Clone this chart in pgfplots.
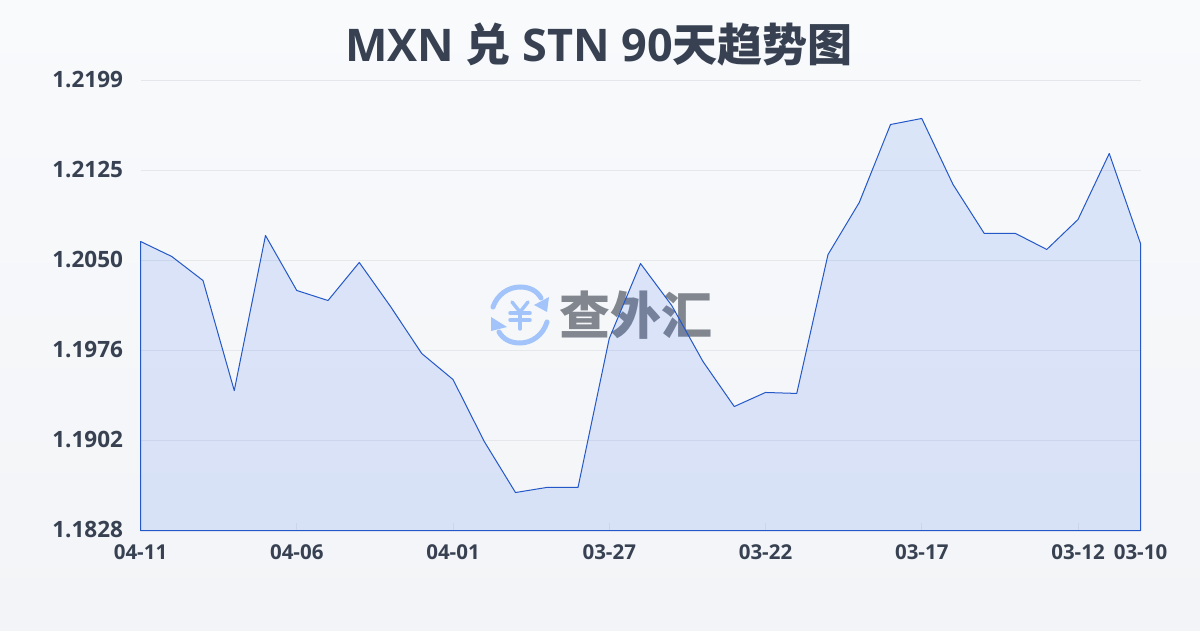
\documentclass[border=0pt]{standalone}
\usepackage{pgfplots}
\pgfplotsset{compat=1.18}
\usepackage{pgfplotstable}
\usepackage{fontspec}
\setmainfont{Open Sans}
\newfontfamily\cjk{Noto Sans CJK SC}
\definecolor{ink}{HTML}{374151}
\definecolor{gridc}{HTML}{E5E7EB}
\definecolor{serie}{HTML}{2458C8}
\definecolor{fillc}{HTML}{2563EB}
\definecolor{logo}{HTML}{A3C4FB}
\definecolor{wm}{HTML}{81868F}
\definecolor{bgtop}{HTML}{F8FAFC}
\definecolor{bgbot}{HTML}{F2F4F7}
\pgfplotstableread{
idx val
0 1.20663
1 1.20539
2 1.20341
3 1.19434
4 1.20712
5 1.20259
6 1.20176
7 1.20490
8 1.20127
9 1.19739
10 1.19525
11 1.19014
12 1.18593
13 1.18635
14 1.18635
15 1.19863
16 1.20481
17 1.20135
18 1.19673
19 1.19302
20 1.19418
21 1.19410
22 1.20555
23 1.20984
24 1.21627
25 1.21677
26 1.21133
27 1.20729
28 1.20729
29 1.20597
30 1.20844
31 1.21388
32 1.20646
}\rates
\begin{document}
\begin{tikzpicture}[x=1pt,y=1pt]
\path[use as bounding box] (0,0) rectangle (1200,630);
\shade[top color=bgtop,bottom color=bgbot] (0,0) rectangle (1200,630);
% watermark
\begin{scope}[line width=5pt,draw=logo,line cap=round]
\draw (493,323) .. controls (497,335) and (508,343) .. (520,343) .. controls (530,343) and (537,339) .. (541,332);
\fill[logo] (549,333) -- (547,318) -- (534,325) -- cycle;
\draw (547,308) .. controls (543,295) and (532,287) .. (520,287) .. controls (510,287) and (503,291) .. (499,298);
\fill[logo] (491,313) -- (491,299) -- (507,303) -- cycle;
\draw[line width=3.5pt] (512,328) -- (520,318) -- (528,328);
\draw[line width=3.5pt] (510,317) -- (530,317);
\draw[line width=3.5pt] (510,310) -- (530,310);
\draw[line width=3.5pt] (520,318) -- (520,301);
\end{scope}
\node[text=wm,font={\cjk\bfseries\fontsize{51}{51}\selectfont},inner sep=0pt,anchor=center] at (636,315) {查外汇};
\begin{axis}[
  at={(140.5pt,99.5pt)},anchor=south west,
  scale only axis,width=1000pt,height=450pt,
  xmin=0,xmax=32,ymin=1.1828,ymax=1.2199,
  axis line style={draw=none},
  clip=false,
  xtick={0,5,10,15,20,25,30,32},
  xticklabels={04-11,04-06,04-01,03-27,03-22,03-17,03-12,03-10},
  ytick={1.1828,1.19022,1.19764,1.20506,1.21248,1.2199},
  yticklabels={1.1828,1.1902,1.1976,1.2050,1.2125,1.2199},
  ymajorgrids,
  grid style={gridc,line width=1pt},
  major tick length=8pt,
  xtick style={gridc,line width=1pt},
  ytick style={draw=none},
  xtick pos=bottom,ytick pos=left,
  tick label style={text=ink},
  yticklabel style={font=\fontsize{22.5}{22.5}\selectfont\bfseries,anchor=east,xshift=-14pt,yshift=1pt},
  xticklabel style={font=\fontsize{20.5}{20.5}\selectfont\bfseries,anchor=north,yshift=-11pt},
]
\addplot[draw=serie,line width=1pt,fill=fillc,fill opacity=.13,line join=round] table[x=idx,y=val] {\rates} \closedcycle;
\end{axis}
\node[text=ink,inner sep=0pt] at (599,585) {\fontsize{45}{45}\selectfont\bfseries MXN {\cjk 兑} STN 90{\cjk 天趋势图}};
\end{tikzpicture}
\end{document}
